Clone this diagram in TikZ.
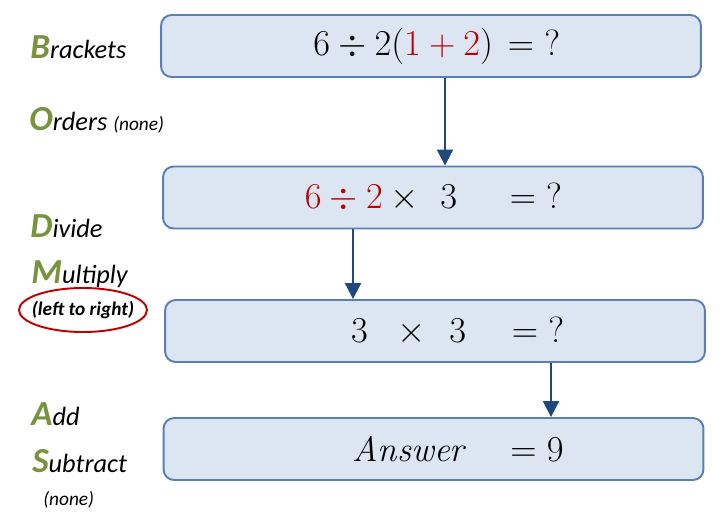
\documentclass[tikz,border=0pt]{standalone}
\usepackage{fontspec}
\usepackage{xcolor}
\usepackage{amsmath}
\usetikzlibrary{arrows.meta}
\newfontfamily\labelfont{Carlito}
\definecolor{boxfill}{HTML}{DCE6F2}
\definecolor{boxline}{HTML}{5A7EB8}
\definecolor{arrowblue}{HTML}{1F497D}
\definecolor{rulegreen}{HTML}{77933C}
\definecolor{mathred}{HTML}{C00000}
\newcommand{\initial}[1]{{\color{rulegreen}\bfseries\fontsize{20}{21}\selectfont #1}}
\newcommand{\eqrow}[2]{\makebox[4.28cm][r]{#1}\makebox[1.2cm][l]{#2}}
\tikzstyle{stepbox} = [rectangle, rounded corners=6pt, draw=boxline, fill=boxfill, line width=1.1pt, minimum width=10.8cm, minimum height=1.24cm, inner sep=0pt, font=\fontsize{20}{24}\selectfont]
\tikzstyle{arrow} = [line width=1.2pt, draw=arrowblue, -{Triangle[width=9pt,length=9pt]}]
\tikzstyle{rule} = [anchor=base west, inner sep=0pt, font=\labelfont\itshape\fontsize{15}{17}\selectfont]
\tikzstyle{note} = [anchor=base west, inner sep=0pt, font=\labelfont\itshape\fontsize{11}{13}\selectfont]

\begin{document}
\begin{tikzpicture}[x=0.02cm, y=-0.02cm]
\useasboundingbox[fill=white] (0,0) rectangle (724,518);
\node[stepbox] (brackets) at (431,46) {\eqrow{$6 \div 2(\textcolor{mathred}{1+2})$\hspace{0.3cm}}{$= {?}$}};
\node[stepbox] (divide) at (433,197.5) {\eqrow{$\textcolor{mathred}{6 \div 2} \times\hspace{0.26cm} 3$\hspace{1.06cm}}{$= {?}$}};
\node[stepbox] (multiply) at (435,331) {\eqrow{$3 \hspace{0.6cm}{\times}\hspace{0.46cm} 3$\hspace{0.92cm}}{$= {?}$}};
\node[stepbox] (answer) at (433.5,449) {\eqrow{$\mathit{Answer}$\hspace{0.92cm}}{$= 9$}};
\coordinate (a1) at (445,0);
\coordinate (a2) at (353,0);
\coordinate (a3) at (551,0);
\draw[arrow] (brackets.south -| a1) -- (divide.north -| a1);
\draw[arrow] (divide.south -| a2) -- (multiply.north -| a2);
\draw[arrow] (multiply.south -| a3) -- (answer.north -| a3);
\node[rule] (b) at (30,58) {\initial{B}rackets};
\node[rule] (o) at (29,130) {\initial{O}rders {\fontsize{11}{13}\selectfont (none)}};
\node[rule] (d) at (30,237) {\initial{D}ivide};
\node[rule] (m) at (31,283) {\initial{M}ultiply};
\node[inner sep=0pt, font=\labelfont\itshape\bfseries\fontsize{11}{13}\selectfont] (lr) at (83,310) {(left to right)};
\draw[mathred, line width=1.1pt] (lr.center) ellipse [x radius=64, y radius=22];
\node[rule] (a) at (31,425) {\initial{A}dd};
\node[rule] (s) at (32,472) {\initial{S}ubtract};
\node[note] (n) at (43,505) {(none)};
\end{tikzpicture}
\end{document}
